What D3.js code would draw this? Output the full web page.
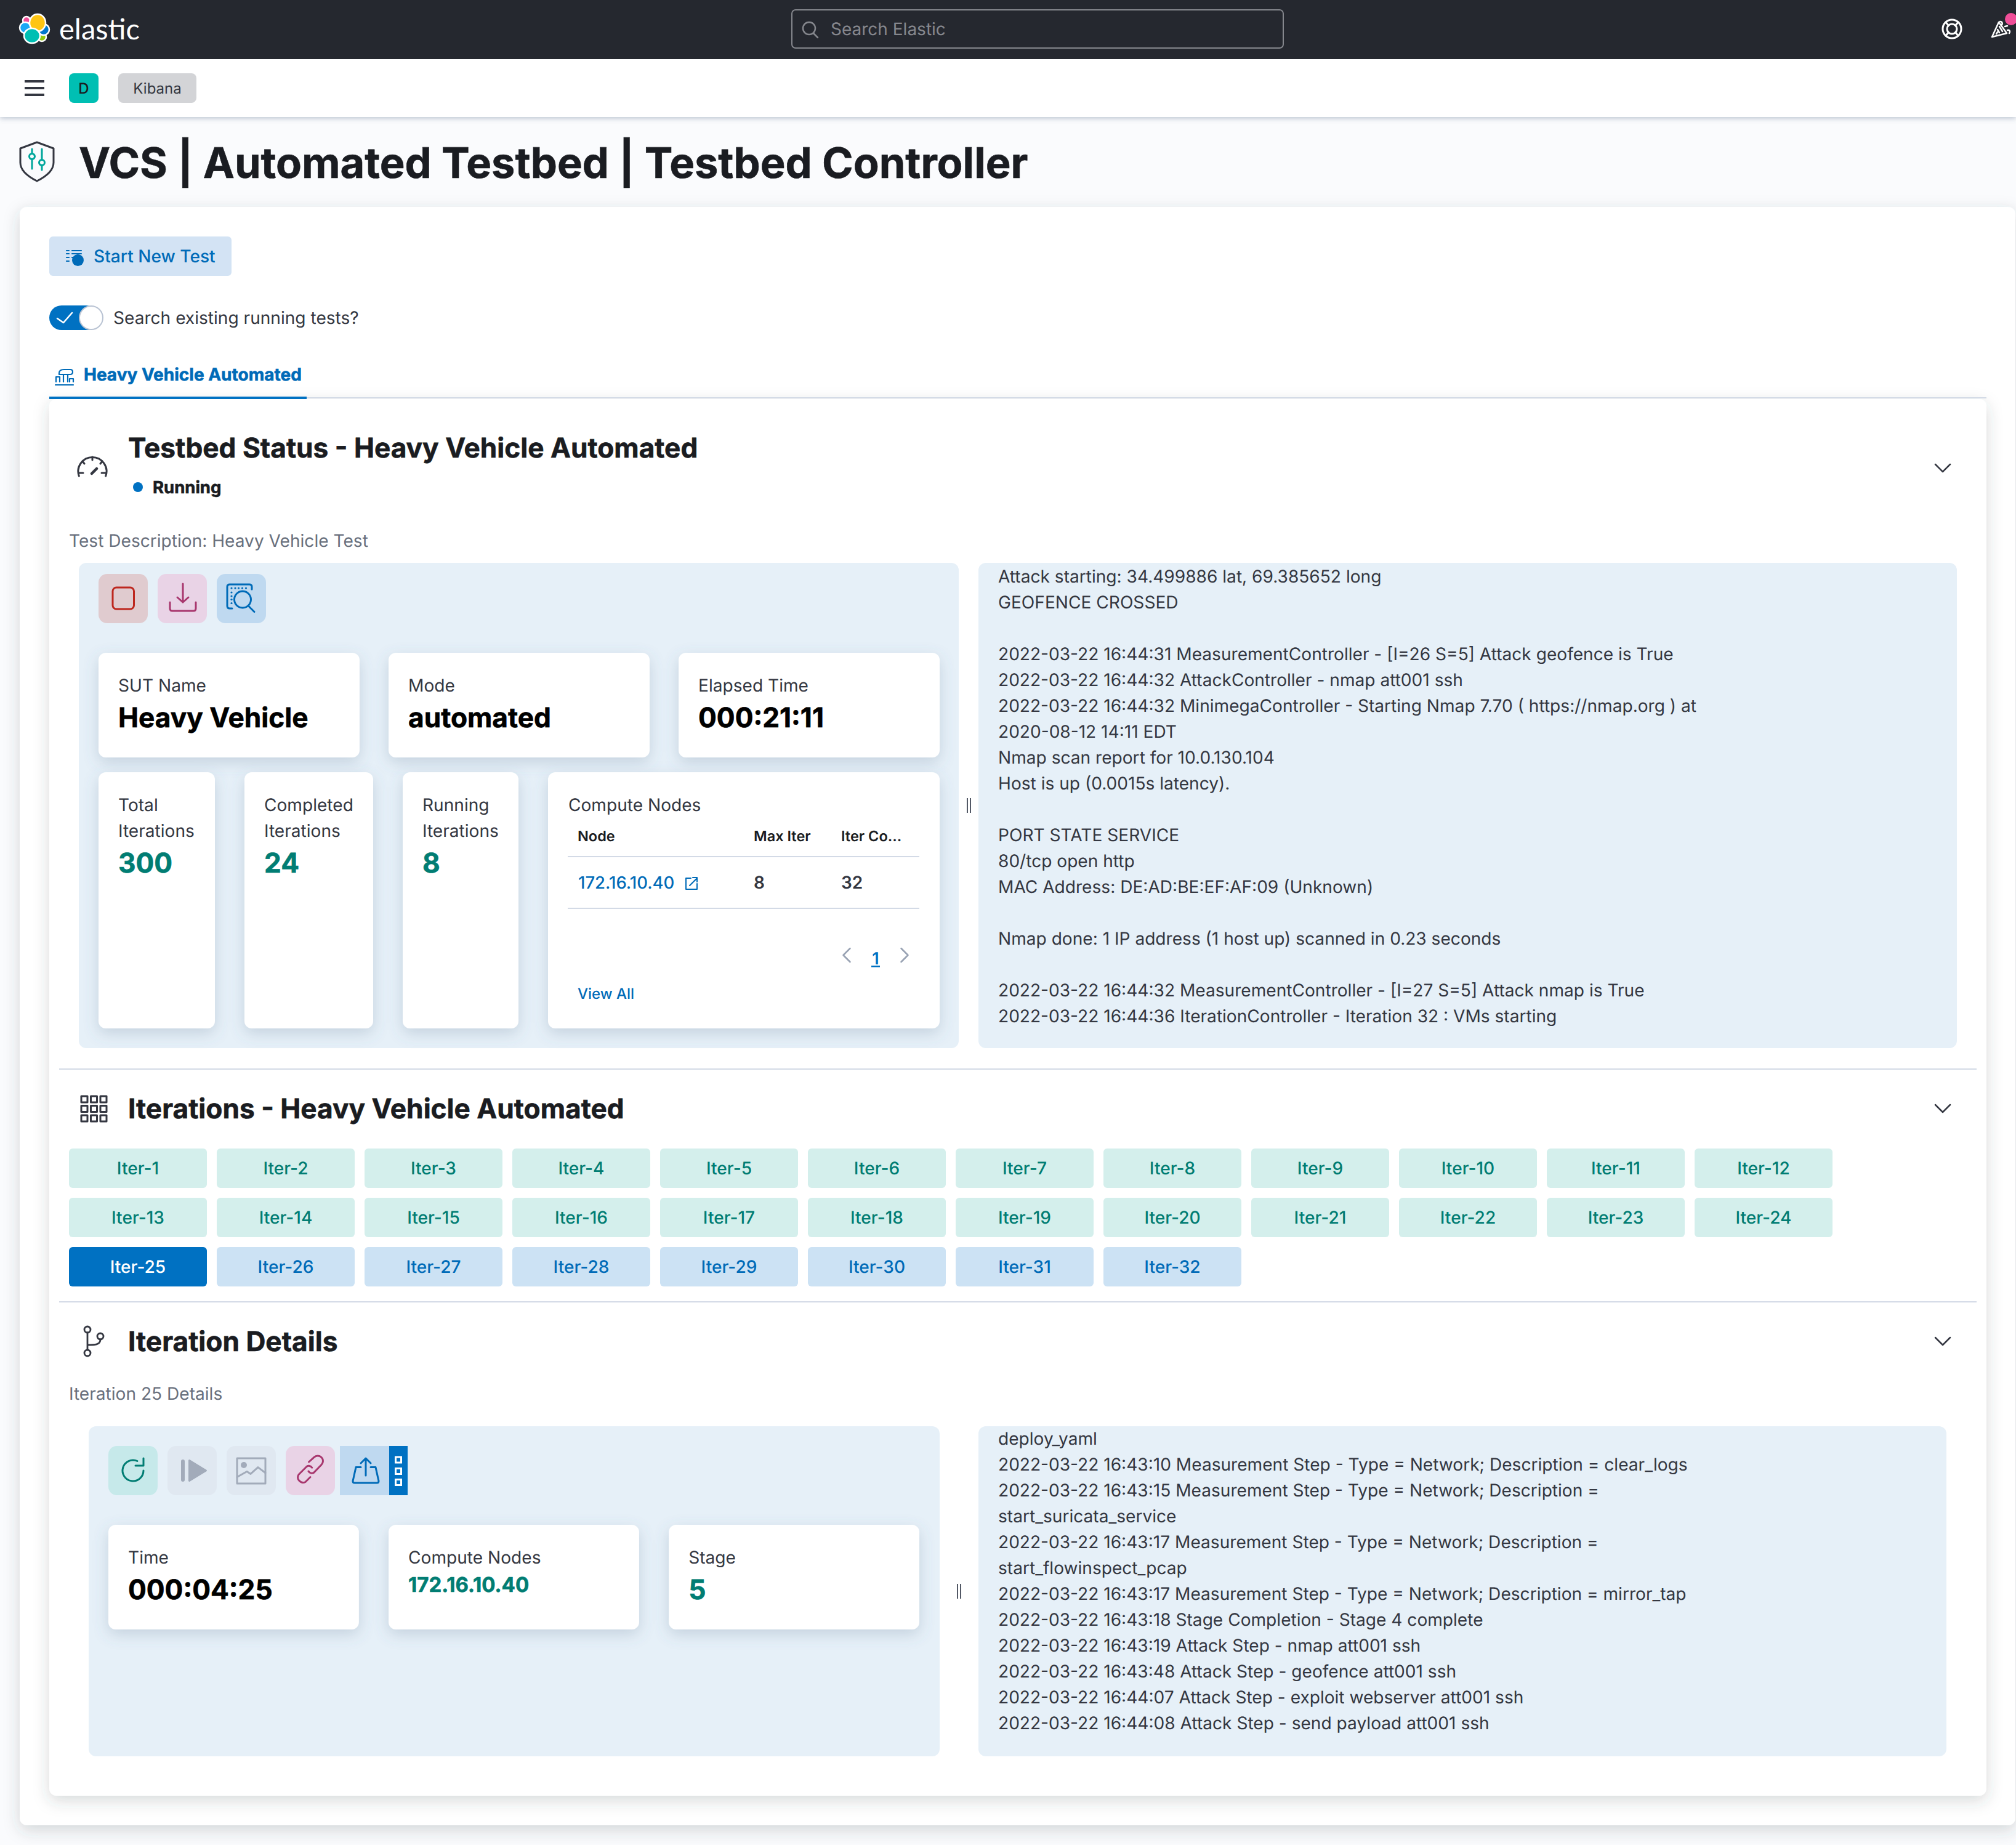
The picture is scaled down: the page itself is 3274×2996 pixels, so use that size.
<!DOCTYPE html>
<html>
<head>
<meta charset="utf-8">
<script src="https://d3js.org/d3.v7.min.js"></script>
<style>
	html, body { margin: 0; padding: 0; background: #f5f6f9; }
	svg { display: block; }
	text { font-family: Inter, "Noto Sans", sans-serif; text-rendering: geometricPrecision; }
</style>
</head>
<body>
<div id="container"></div>
<script>
// text and values
var pageTitle = "VCS | Automated Testbed | Testbed Controller";
var testName = "Heavy Vehicle Automated";

var topCardLabels = ["SUT Name", "Mode", "Elapsed Time"];
var topCardValues = ["Heavy Vehicle", "automated", "000:21:11"];

var countLabels = [["Total", "Iterations"], ["Completed", "Iterations"], ["Running", "Iterations"]];
var countValues = [300, 24, 8];

var nodeHeaders = ["Node", "Max Iter", "Iter Co..."];
var nodeRow = ["172.16.10.40", "8", "32"];

var testLog = [
	"Attack starting: 34.499886 lat, 69.385652 long",
	"GEOFENCE CROSSED",
	"",
	"2022-03-22 16:44:31 MeasurementController - [I=26 S=5] Attack geofence is True",
	"2022-03-22 16:44:32 AttackController - nmap att001 ssh",
	"2022-03-22 16:44:32 MinimegaController - Starting Nmap 7.70 ( https://nmap.org ) at",
	"2020-08-12 14:11 EDT",
	"Nmap scan report for 10.0.130.104",
	"Host is up (0.0015s latency).",
	"",
	"PORT STATE SERVICE",
	"80/tcp open http",
	"MAC Address: DE:AD:BE:EF:AF:09 (Unknown)",
	"",
	"Nmap done: 1 IP address (1 host up) scanned in 0.23 seconds",
	"",
	"2022-03-22 16:44:32 MeasurementController - [I=27 S=5] Attack nmap is True",
	"2022-03-22 16:44:36 IterationController - Iteration 32 : VMs starting"
];

var iterLabels = ["Iter-1", "Iter-2", "Iter-3", "Iter-4", "Iter-5", "Iter-6", "Iter-7", "Iter-8",
	"Iter-9", "Iter-10", "Iter-11", "Iter-12", "Iter-13", "Iter-14", "Iter-15", "Iter-16",
	"Iter-17", "Iter-18", "Iter-19", "Iter-20", "Iter-21", "Iter-22", "Iter-23", "Iter-24",
	"Iter-25", "Iter-26", "Iter-27", "Iter-28", "Iter-29", "Iter-30", "Iter-31", "Iter-32"];
var completedIters = 24;
var selectedIter = "Iter-25";

var iterCardLabels = ["Time", "Compute Nodes", "Stage"];
var iterCardValues = ["000:04:25", "172.16.10.40", "5"];

var iterLog = [
	"deploy_yaml",
	"2022-03-22 16:43:10 Measurement Step - Type = Network; Description = clear_logs",
	"2022-03-22 16:43:15 Measurement Step - Type = Network; Description =",
	"start_suricata_service",
	"2022-03-22 16:43:17 Measurement Step - Type = Network; Description =",
	"start_flowinspect_pcap",
	"2022-03-22 16:43:17 Measurement Step - Type = Network; Description = mirror_tap",
	"2022-03-22 16:43:18 Stage Completion - Stage 4 complete",
	"2022-03-22 16:43:19 Attack Step - nmap att001 ssh",
	"2022-03-22 16:43:48 Attack Step - geofence att001 ssh",
	"2022-03-22 16:44:07 Attack Step - exploit webserver att001 ssh",
	"2022-03-22 16:44:08 Attack Step - send payload att001 ssh"
];

// colours
var ink = "#343741";
var dark = "#1a1c21";
var grey = "#69707d";
var blue = "#006bb8";
var teal = "#017d73";
var panelBlue = "#e6f0f8";
var lineGrey = "#d3dae6";

var width = 3274;
var height = 2996;
var bodySize = 28.1;
var titleSize = 44.2;

var svg = d3.select("#container")
	.append("svg")
	.attr("width", width)
	.attr("height", height);

// soft shadows used by the panels and cards
var defs = svg.append("defs");
function addShadow(id, dy, blur, opacity, color) {
	defs.append("filter")
		.attr("id", id)
		.attr("x", "-20%").attr("y", "-20%")
		.attr("width", "140%").attr("height", "140%")
		.append("feDropShadow")
		.attr("dx", 0).attr("dy", dy)
		.attr("stdDeviation", blur)
		.attr("flood-color", color || "#5a6f8c")
		.attr("flood-opacity", opacity);
}
addShadow("cardShadow", 8, 12, 0.24);
addShadow("panelShadow", 8, 13, 0.2, "#3a3f4a");
addShadow("barShadow", 2, 4, 0.42);

function box(parent, x, y, w, h, fill, r, shadow) {
	var b = parent.append("rect")
		.attr("x", x).attr("y", y)
		.attr("width", w).attr("height", h)
		.attr("rx", r || 0)
		.attr("fill", fill);
	if (shadow) {
		b.attr("filter", "url(#" + shadow + ")");
	}
	return b;
}

function label(parent, str, x, y, size, fill, weight, anchor) {
	var t = parent.append("text")
		.attr("x", x).attr("y", y)
		.attr("font-size", size)
		.attr("font-weight", weight || 400)
		.attr("fill", fill || ink)
		.attr("text-anchor", anchor || "start")
		.text(str);
	// the screenshot renders bold text a little heavier
	if (weight == 700) {
		t.attr("stroke", fill).attr("stroke-width", 0.6);
	}
	return t;
}

// line icon drawn in its own local coordinates
function icon(x, y, stroke, sw) {
	return svg.append("g")
		.attr("transform", "translate(" + x + "," + y + ")")
		.attr("fill", "none")
		.attr("stroke", stroke)
		.attr("stroke-width", sw || 3)
		.attr("stroke-linecap", "round")
		.attr("stroke-linejoin", "round");
}

function chevron(x, y, size, color, dir) {
	var g = icon(x, y, color, 2.5);
	if (dir == "down") {
		g.append("path").attr("d", "M" + (-size) + "," + (-size / 2) + "L0," + (size / 2) + "L" + size + "," + (-size / 2));
	}
	else {
		var s = dir == "left" ? 1 : -1;
		g.append("path").attr("d", "M" + (s * size / 2) + "," + (-size) + "L" + (-s * size / 2) + ",0L" + (s * size / 2) + "," + size);
	}
}

function dragHandle(x, y) {
	box(svg, x, y, 2, 24, "#535966");
	box(svg, x + 5, y, 2, 24, "#535966");
}

// page background and header bars
box(svg, 0, 0, width, height, "#fafbfd");
box(svg, 0, 96, width, 94, "#ffffff", 0, "barShadow");
box(svg, 0, 0, width, 96, "#25282f");

// elastic logo
var logo = svg.append("g").attr("stroke", "#ffffff").attr("stroke-width", 2.5);
logo.append("ellipse").attr("cx", 43).attr("cy", 33).attr("rx", 6).attr("ry", 6).attr("fill", "#f04e98");
logo.append("ellipse").attr("cx", 68).attr("cy", 60).attr("rx", 7).attr("ry", 7).attr("fill", "#93c90e");
logo.append("ellipse").attr("cx", 41).attr("cy", 45).attr("rx", 9).attr("ry", 9).attr("fill", "#1ba9f5");
logo.append("ellipse").attr("cx", 71).attr("cy", 48).attr("rx", 9).attr("ry", 9).attr("fill", "#0077cc");
logo.append("ellipse").attr("cx", 61).attr("cy", 37).attr("rx", 13).attr("ry", 14).attr("fill", "#fec514");
logo.append("ellipse").attr("cx", 52).attr("cy", 58).attr("rx", 13).attr("ry", 12).attr("fill", "#00bfb3");
label(svg, "elastic", 96, 64, 47, "#ffffff", 400).attr("style", "font-family: Lato");

// search box
box(svg, 1286, 16, 798, 62, "#25282f", 6).attr("stroke", "#85878d").attr("stroke-width", 2);
var searchIcon = icon(1314, 46, "#85878d", 2.5);
searchIcon.append("circle").attr("r", 10);
searchIcon.append("path").attr("d", "M7,8L14,15");
label(svg, "Search Elastic", 1349, 57, 28, "#85878d");

// help and news icons
var help = icon(3170, 47, "#ffffff", 3);
help.append("circle").attr("r", 15);
help.append("circle").attr("r", 8);
help.append("path").attr("d", "M-10,-11L-6,-6M10,-11L6,-6M-10,11L-6,6M10,11L6,6");
var party = icon(3248, 47, "#ffffff", 2.5);
party.append("path").attr("d", "M-13,13L-2,-11L11,7Z");
party.append("path").attr("d", "M-6,8L-4,5M-1,6L-4,1M4,4L-1,-4M2,-6C5,-8 4,-12 0,-12M8,-4L12,-5M12,2C16,1 17,5 15,7");
box(svg, 3256, 21, 20, 20, "#f04e98", 10);

// breadcrumb bar
box(svg, 40, 130, 32, 4, ink);
box(svg, 40, 141, 32, 4, ink);
box(svg, 40, 152, 32, 4, ink);
box(svg, 112, 119, 48, 48, "#00bfb3", 8);
label(svg, "D", 136, 152, 24, dark, 500, "middle");
box(svg, 192, 119, 127, 48, "#d3d4d7", 8);
label(svg, "Kibana", 255.5, 152, 24, ink, 400, "middle");

// page title with shield icon
var shield = icon(60, 262, ink, 3);
shield.append("path").attr("d", "M0,-31L27,-21L27,2C27,15 14,25 0,32C-14,25 -27,15 -27,2L-27,-21Z");
var shieldBars = icon(60, 262, "#00a69b", 3);
shieldBars.append("path").attr("d", "M-8,-20L-8,-13M-8,-2L-8,12M8,-20L8,-4M8,6L8,14");
shieldBars.append("circle").attr("cx", -8).attr("cy", -8).attr("r", 4.5);
shieldBars.append("circle").attr("cx", 8).attr("cy", 2).attr("r", 4.5);
label(svg, pageTitle, 128, 289, 68.5, dark, 700);

// outer white page panel and inner test panel
box(svg, 32, 336, 3241, 2628, "#ffffff", 12, "panelShadow");
box(svg, 80, 648, 3146, 2268, "#ffffff", 12, "panelShadow");

box(svg, 80, 384, 296, 64, "#d3e3f4", 6);
var newTest = icon(108, 415, blue, 2.2);
newTest.append("path").attr("d", "M0,-8L4,-8M9,-8L24,-8M0,-3L4,-3M9,-3L24,-3M0,3L4,3M9,3L14,3M0,9L4,9");
box(svg, 117, 413, 19, 19, blue, 9.5);
newTest.append("path").attr("d", "M18.5,3L18.5,11M14.5,7L22.5,7").attr("stroke", "#ffffff");
label(svg, "Start New Test", 152, 426, bodySize, blue, 500);

// toggle
box(svg, 80, 496, 80, 40, "#0071c2", 20);
box(svg, 129, 497, 38, 38, "#ffffff", 19).attr("stroke", "#b9c3d3").attr("stroke-width", 2);
icon(93, 516, "#ffffff", 2.5).append("path").attr("d", "M0,1L10,8L24,-8");
label(svg, "Search existing running tests?", 184, 526, bodySize, ink);

// tab
var tabIcon = icon(90, 597, blue, 2.2);
tabIcon.append("path").attr("d", "M0,28L29,28M1,23L1,15L7,15L7,23M13,23L13,11M20,23L20,11M23,23L23,18L29,18L29,23M6,11L6,9Q6,3 14,3L24,3Q28,3 28,7Q28,11 24,11L6,11");
label(svg, testName, 136, 618, 28, blue, 700);
box(svg, 498, 645, 2728, 2, lineGrey);
box(svg, 80, 644, 418, 4, "#0071c2");

// testbed status section
var gauge = icon(150, 765, ink, 3);
gauge.append("path").attr("d", "M-21.7,8A23,23 0 1 1 21.7,8");
gauge.append("path").attr("d", "M0,-23L0,-18M-16,-16L-13,-12M16,-16L13,-12M-21,3L-15,3M21,3L15,3");
gauge.append("path").attr("d", "M-1,4L7,-4").attr("stroke-width", 4.5);
label(svg, "Testbed Status - " + testName, 208, 743, titleSize, dark, 700);
box(svg, 216, 783, 16, 16, "#0071c2", 8);
label(svg, "Running", 248, 801, 27.5, dark, 700);
chevron(3155, 760, 12, ink, "down");
label(svg, "Test Description: Heavy Vehicle Test", 112, 888, bodySize, grey);

// left status panel
box(svg, 128, 914, 1429, 788, panelBlue, 12);
box(svg, 160, 932, 80, 80, "#e0cbcf", 14);
box(svg, 256, 932, 80, 80, "#e9d3e6", 14);
box(svg, 352, 932, 80, 80, "#bfd9f0", 14);
box(svg, 183, 954, 34.5, 35, "none", 6).attr("stroke", "#bd271e").attr("stroke-width", 3);
var download = icon(297, 970, "#a8376e", 3);
download.append("path").attr("d", "M0,-22L0,8M-9,0L0,8L9,0");
download.append("path").attr("d", "M-21,8L-21,18Q-21,22 -17,22L17,22Q21,22 21,18L21,8");
var inspect = icon(392, 972, blue, 3);
inspect.append("path").attr("d", "M-15,16L-19,16Q-23,16 -23,12L-23,-19Q-23,-23 -19,-23L13,-23Q17,-23 17,-19L17,-15");
inspect.append("circle").attr("cx", 2).attr("cy", 1.5).attr("r", 13.5);
inspect.append("path").attr("d", "M11.5,12L21,21.5");
[[-16, -17], [-10, -17], [-4.5, -17], [1.5, -17], [7.5, -17], [-16, -10], [-16, -4], [-16, 1.5], [-16, 7.5]].forEach(function(p) {
	inspect.append("circle").attr("cx", p[0]).attr("cy", p[1]).attr("r", 1.6).attr("fill", blue).attr("stroke", "none");
});

var topScale = d3.scaleBand()
	.domain(topCardLabels)
	.range([160, 1526])
	.paddingInner(0.1);

topCardLabels.forEach(function(d, i) {
	var x = topScale(d);
	box(svg, x, 1060, topScale.bandwidth(), 170, "#ffffff", 12, "cardShadow");
	label(svg, d, x + 32, 1123, bodySize, ink);
	label(svg, topCardValues[i], x + 32, 1180.5, titleSize, "#000000", 700);
});

// three narrow count cards, their widths differ with the text
var countX = [160, 397, 654];
var countW = [189, 209, 188];
countLabels.forEach(function(d, i) {
	box(svg, countX[i], 1254, countW[i], 416, "#ffffff", 12, "cardShadow");
	label(svg, d[0], countX[i] + 32, 1317, bodySize, ink);
	label(svg, d[1], countX[i] + 32, 1359, bodySize, ink);
	label(svg, countValues[i], countX[i] + 32, 1416.5, titleSize, teal, 700);
});

// compute nodes card with its little table
box(svg, 890, 1254, 636, 416, "#ffffff", 12, "cardShadow");
label(svg, "Compute Nodes", 923, 1317, bodySize, ink);
var columnX = [938, 1224, 1366];
nodeHeaders.forEach(function(d, i) {
	label(svg, d, columnX[i], 1366, 23.5, dark, 600);
});
box(svg, 922, 1390, 571, 2, lineGrey);
label(svg, nodeRow[0], columnX[0] + 1, 1443, 27.5, blue, 500);
label(svg, nodeRow[1], columnX[1], 1443, 28, ink, 600);
label(svg, nodeRow[2], columnX[2], 1443, 28, ink, 600);
var extLink = icon(1112, 1424, blue, 2);
extLink.append("path").attr("d", "M10,2L2,2L2,20L20,20L20,11M8,14L20,2M13,1L20,1L20,8");
box(svg, 922, 1474, 571, 2, lineGrey);
chevron(1375, 1551, 11, "#98a2b3", "left");
label(svg, "1", 1422, 1566, 27, "#0071c2", 600, "middle");
box(svg, 1415, 1568, 14, 2.5, "#0071c2");
chevron(1469, 1551, 11, "#98a2b3", "right");
label(svg, "View All", 938, 1622, 24, blue, 500);

dragHandle(1570, 1296);

// log text is placed on one line scale so the spacing stays even
var lineScale = d3.scaleLinear().domain([0, 1]).range([0, 42]);

function drawLog(lines, y0) {
	svg.append("g").selectAll("text")
		.data(lines)
		.enter()
		.append("text")
		.attr("x", 1621)
		.attr("y", function(d, i) {
			return y0 + lineScale(i);
		})
		.attr("font-size", bodySize)
		.attr("fill", ink)
		.text(function(d) { return d; });
}

box(svg, 1589, 914, 1589, 788, panelBlue, 12);
drawLog(testLog, 945.5);

box(svg, 96, 1735, 3114, 2, lineGrey);

// iterations section
var grid = icon(132, 1780, ink, 3);
[0, 15.5, 31].forEach(function(gx) {
	[0, 15.5, 31].forEach(function(gy) {
		grid.append("rect").attr("x", gx).attr("y", gy).attr("width", 10).attr("height", 10);
	});
});
label(svg, "Iterations - " + testName, 208, 1816, titleSize, dark, 700);
chevron(3155, 1800, 12, ink, "down");

var iterColumns = 12;
var iterX = d3.scaleLinear().domain([0, 1]).range([112, 352]);
var iterY = d3.scaleLinear().domain([0, 1]).range([1865, 1945]);

var iterButtons = svg.append("g").selectAll("g")
	.data(iterLabels)
	.enter()
	.append("g")
	.attr("transform", function(d, i) {
		return "translate(" + iterX(i % iterColumns) + "," + iterY(Math.floor(i / iterColumns)) + ")";
	});

iterButtons.append("rect")
	.attr("width", 224)
	.attr("height", 64)
	.attr("rx", 6)
	.attr("fill", function(d, i) {
		if (d == selectedIter) { return "#0071c2"; }
		return i < completedIters ? "#d4efec" : "#cce2f4";
	});

iterButtons.append("text")
	.attr("x", 112)
	.attr("y", 41.5)
	.attr("text-anchor", "middle")
	.attr("font-size", bodySize)
	.attr("font-weight", 500)
	.attr("fill", function(d, i) {
		if (d == selectedIter) { return "#ffffff"; }
		return i < completedIters ? teal : blue;
	})
	.text(function(d) { return d; });

box(svg, 96, 2113, 3114, 2, lineGrey);

// iteration details section
var branch = icon(152, 2178, ink, 2.8);
branch.append("circle").attr("cx", -10).attr("cy", -19).attr("r", 5);
branch.append("circle").attr("cx", -10).attr("cy", 19).attr("r", 5);
branch.append("circle").attr("cx", 11).attr("cy", -8).attr("r", 5);
branch.append("path").attr("d", "M-10,-14L-10,14M-10,6C2,6 11,6 11,-3");
label(svg, "Iteration Details", 208, 2194, titleSize, dark, 700);
chevron(3155, 2178, 12, ink, "down");
label(svg, "Iteration 25 Details", 112, 2273, bodySize, grey);

box(svg, 144, 2316, 1382, 536, panelBlue, 12);
box(svg, 176, 2348, 80, 80, "#c6e9ea", 14);
box(svg, 272, 2348, 80, 80, "#e0e8f1", 14);
box(svg, 368, 2348, 80, 80, "#e0e8f1", 14);
box(svg, 464, 2348, 80, 80, "#e9d3e6", 14);
box(svg, 552, 2348, 80, 80, "#bfd9f0");
box(svg, 632, 2348, 30, 80, "#0071c2");
[2370.5, 2389, 2407].forEach(function(y) {
	box(svg, 642.5, y - 4.5, 9, 9, "none").attr("stroke", "#ffffff").attr("stroke-width", 3);
});

var refresh = icon(216, 2388, teal, 3);
refresh.append("path").attr("d", "M17,0A17,17 0 1 1 7,-15.5M17,-20L17,-8L4,-8");
var play = svg.append("g")
	.attr("transform", "translate(312,2388)")
	.attr("fill", "#a2abba")
	.attr("stroke", "#a2abba")
	.attr("stroke-width", 3)
	.attr("stroke-linejoin", "round");
play.append("rect").attr("x", -16.5).attr("y", -16.5).attr("width", 3).attr("height", 33).attr("rx", 1.5);
play.append("path").attr("d", "M-4.5,-16.5L22.5,0L-4.5,16.5Z");
var image = icon(408, 2388, "#a2abba", 3);
image.append("rect").attr("x", -23).attr("y", -20).attr("width", 46).attr("height", 41);
image.append("circle").attr("cx", -12).attr("cy", -9).attr("r", 5).attr("fill", "#a2abba").attr("stroke", "none");
image.append("path").attr("d", "M-23,10.5L-7,1.5L-1,5.4L11,-5.4L23,3.7");
var chain = icon(504, 2388, "#a8376e", 3);
chain.append("path").attr("d", "M-2.4,-14L6,-21.6A8.5,8.5 0 0 1 18,-9.5L6,3A6,6 0 0 1 -3,1");
chain.append("path").attr("d", "M2.7,-4.7A6,6 0 0 0 -6,-6.5L-19,6.5A8.5,8.5 0 0 0 -8,18.5L0,10.5");
var share = icon(594, 2388, blue, 3);
share.append("path").attr("d", "M-8,-5.4L-16,-5.4L-21,17Q-21,20 -18,20L18,20Q21,20 21,17L16,-5.4L8,-5.4");
share.append("path").attr("d", "M0,8L0,-20M-8,-12L0,-20L8,-12");

var iterScale = d3.scaleBand()
	.domain(iterCardLabels)
	.range([176, 1493])
	.paddingInner(0.106);

iterCardLabels.forEach(function(d, i) {
	var x = iterScale(d);
	box(svg, x, 2476, iterScale.bandwidth(), 170, "#ffffff", 12, "cardShadow");
	label(svg, d, x + 32, 2539, bodySize, ink);
	if (i == 0) {
		label(svg, iterCardValues[i], x + 32, 2596.5, titleSize, "#000000", 700);
	}
	else if (i == 1) {
		label(svg, iterCardValues[i], x + 32, 2585, 33, teal, 700);
	}
	else {
		label(svg, iterCardValues[i], x + 32, 2596.5, titleSize, teal, 700);
	}
});

dragHandle(1554, 2572);

box(svg, 1589, 2316, 1572, 536, panelBlue, 12);
drawLog(iterLog, 2346);
</script>
</body>
</html>
